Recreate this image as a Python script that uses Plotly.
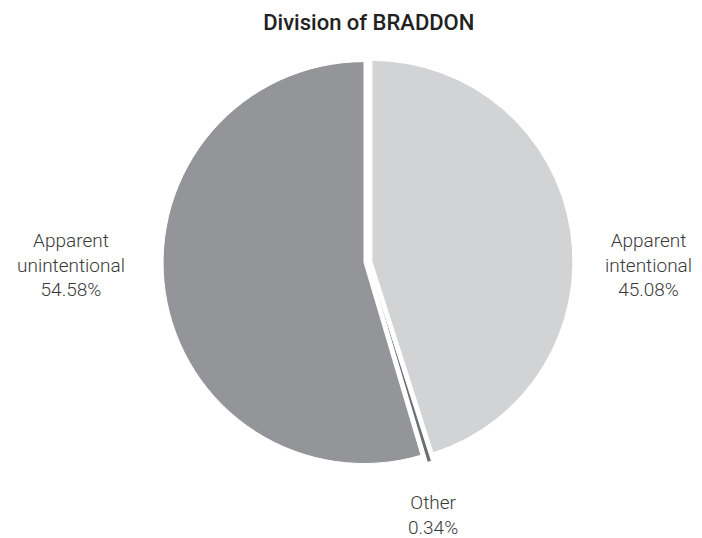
import plotly.graph_objects as go

# slices, clockwise from 12 o'clock
labels = ['Apparent intentional', 'Other', 'Apparent unintentional']
shares = [45.08, 0.34, 54.58]
colors = ['#d1d3d4', '#6d6e71', '#939598']
pulls = [0.02, 0.04, 0.02]

# outside label placement (paper coords) and line-broken text
label_text = ['Apparent<br>intentional', 'Other', 'Apparent<br>unintentional']
label_xy = [(0.9125, 0.4928), (0.605, -0.105), (0.09, 0.4928)]

fig = go.Figure(go.Pie(
    labels=labels,
    values=shares,
    sort=False,
    direction='clockwise',
    rotation=0,
    pull=pulls,
    marker=dict(colors=colors, line=dict(color='white', width=1)),
    textinfo='none',
    hoverinfo='label+percent',
    showlegend=False,
    domain=dict(x=[0.2151, 0.8105], y=[0, 1]),
))

for txt, val, (x, y) in zip(label_text, shares, label_xy):
    fig.add_annotation(
        text=f"{txt}<br>{val:.2f}%",
        x=x, y=y, xref='paper', yref='paper',
        xanchor='center', yanchor='middle',
        showarrow=False, align='center',
        font=dict(family='Roboto', size=19, color='#3a3a3a', weight=300),
    )

fig.update_layout(
    width=702, height=538,
    margin=dict(l=0, r=0, t=45, b=75),
    paper_bgcolor='white', plot_bgcolor='white',
    title=dict(text='Division of BRADDON', x=0.514, xanchor='center',
               y=0.974, yanchor='middle', yref='container',
               font=dict(family='Roboto', size=22, color='#222222', weight=500)),
)

fig.write_html("out.html")
